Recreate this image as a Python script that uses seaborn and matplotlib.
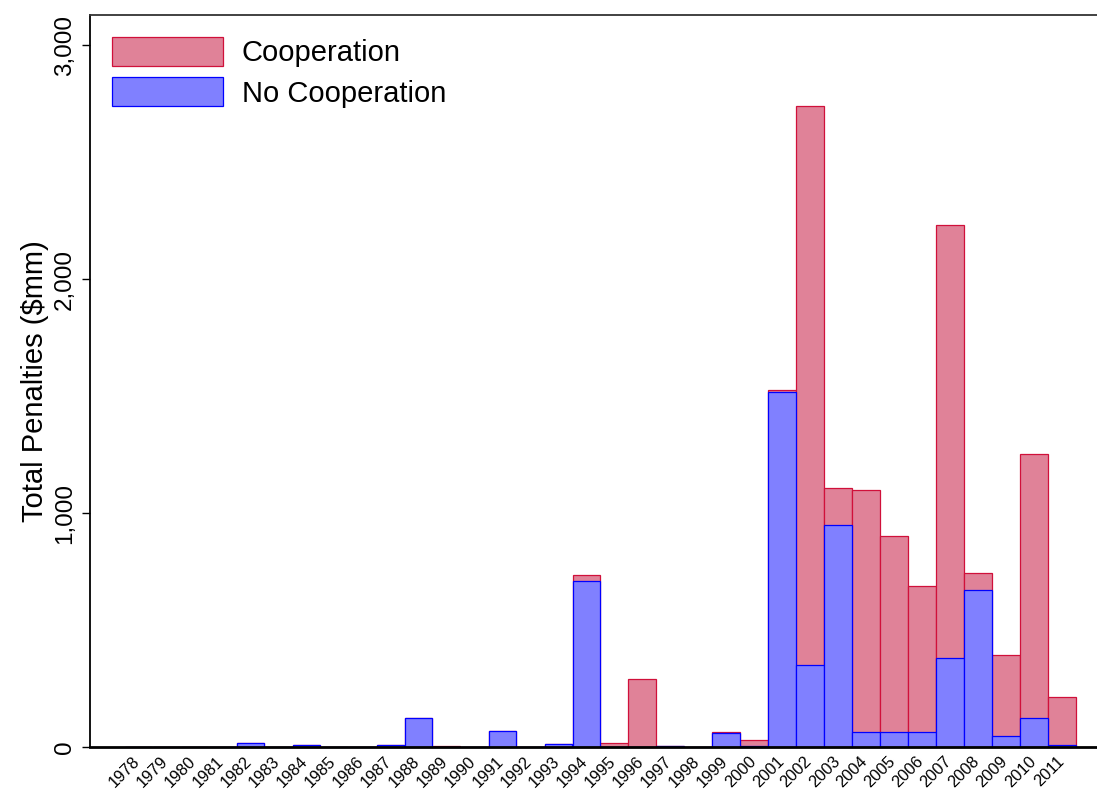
import numpy as np
import pandas as pd
import seaborn as sns
import matplotlib.pyplot as plt
import matplotlib.transforms as mtransforms
from matplotlib.ticker import FuncFormatter

# Penalties by year ($mm)
years = [str(y) for y in range(1978, 2012)]
no_coop = [2, 0, 2, 0, 18, 0, 10, 0, 0, 7, 122, 0, 0, 67, 2, 11, 708, 0, 1, 3,
           0, 60, 3, 1520, 350, 950, 65, 65, 65, 380, 672, 47, 125, 7]
coop = [0, 0, 0, 2, 0, 0, 0, 0, 0, 0, 0, 4, 0, 0, 0, 0, 28, 17, 289, 0,
        0, 5, 28, 7, 2390, 156, 1035, 836, 623, 1852, 73, 348, 1129, 206]

df = pd.DataFrame({"year": years, "no_coop": no_coop, "coop": coop})
df["total"] = df["no_coop"] + df["coop"]

sns.set_style("white")
plt.rcParams["font.family"] = ["Liberation Sans", "DejaVu Sans"]
# plain black text like the original
for key in ["text.color", "axes.labelcolor", "xtick.color", "ytick.color"]:
    plt.rcParams[key] = "black"

fig = plt.figure(figsize=(10.97, 7.94), dpi=100)
ax = fig.add_axes([90 / 1097, 1 - 747 / 794, (1097 - 90) / 1097, (747 - 15) / 794])

# Cooperation stacked on top: draw totals first, then cover with No Cooperation
sns.barplot(data=df, x="year", y="total", order=years, color="#E08298",
            edgecolor="#D0103A", linewidth=0.9, width=0.97, saturation=1,
            label="Cooperation", ax=ax)
sns.barplot(data=df, x="year", y="no_coop", order=years, color="#8080FF",
            edgecolor="#0000FF", linewidth=0.9, width=0.97, saturation=1,
            label="No Cooperation", ax=ax)

ax.set_xlim(-1.72, 34.25)
ax.set_ylim(0, 3130)
ax.set_yticks([0, 1000, 2000, 3000])
ax.yaxis.set_major_formatter(FuncFormatter(lambda v, p: f"{int(v):,}"))

ax.set_xlabel("")
ax.set_ylabel("Total Penalties ($mm)", fontsize=21, labelpad=4)

ax.tick_params(axis="y", which="major", left=True, length=6, width=1,
               labelsize=17.5, pad=4)
plt.yticks(rotation=90, va="center")
ax.tick_params(axis="x", length=0, labelsize=11.8, pad=5)
# nudge rotated year labels a few pixels left, as in the original
shift = mtransforms.ScaledTranslation(-6 / 100, 0, fig.dpi_scale_trans)
for lbl in ax.get_xticklabels():
    lbl.set_rotation(45)
    lbl.set_ha("right")
    lbl.set_rotation_mode("anchor")
    lbl.set_transform(lbl.get_transform() + shift)

for side in ["left", "top", "bottom"]:
    ax.spines[side].set_visible(True)
    ax.spines[side].set_color("black")
ax.spines["left"].set_linewidth(1.3)
ax.spines["top"].set_linewidth(1.3)
ax.spines["top"].set_color("#333333")
ax.spines["bottom"].set_linewidth(2)
ax.spines["right"].set_visible(False)

ax.legend(loc="upper left", frameon=False, fontsize=21, handlelength=3.8,
          handleheight=1.15, labelspacing=0.35, handletextpad=0.65,
          borderpad=0.4, borderaxespad=0.35)

plt.savefig("out.png", dpi=100)
